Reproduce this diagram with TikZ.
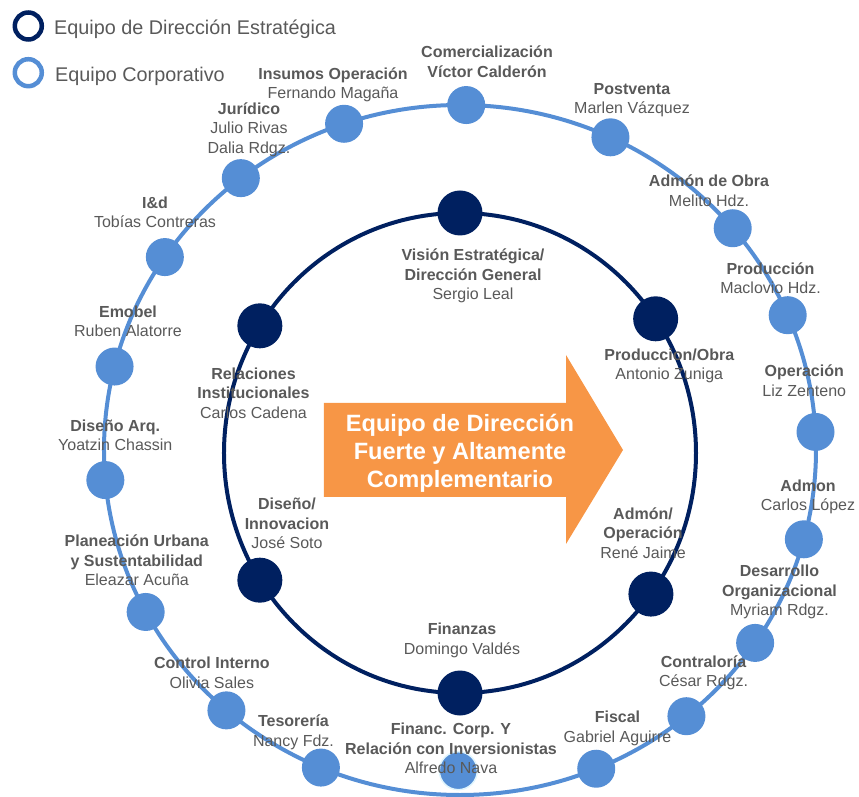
\documentclass[tikz,border=0pt]{standalone}
\usepackage{fontspec}
\setmainfont{Liberation Sans}
\usetikzlibrary{positioning,calc}
\definecolor{corpblue}{RGB}{85,142,213}
\definecolor{dirnavy}{RGB}{0,32,96}
\definecolor{arroworange}{RGB}{247,150,70}
\definecolor{txtgray}{RGB}{89,89,89}

\begin{document}
\begin{tikzpicture}[x=1pt,y=1pt,
   corp/.style={circle,fill=corpblue,minimum size=38pt,inner sep=0pt},
   dir/.style={circle,fill=dirnavy,minimum size=45pt,inner sep=0pt},
   ring/.style={circle,draw=#1,line width=4.5pt,minimum size=27pt,inner sep=0pt},
   lbl/.style={text=txtgray,align=center,inner sep=0pt,font=\fontsize{16}{19.5}\selectfont},
   legtxt/.style={text=txtgray,inner sep=0pt,yshift=-3.5pt,font=\fontsize{19.8}{23}\selectfont}]
   \useasboundingbox (-460,-347) rectangle (399,450);
   % the two rings
   \draw[corpblue,line width=4pt] (0,0) ellipse (356 and 345);
   \draw[dirnavy,line width=4pt] (0,-3) ellipse (236 and 240);
   % corporate team on the outer ring
   \foreach \a/\n in {89/comer,65/postv,40/obra,23/prod,3/oper,-15/admon,
      -34/desa,-50.5/contra,-67.5/fiscal,-113/teso,-131/control,-152/plan,
      185/disarq,166/emobel,146/iyd,128/jur,109/insumos} {
    \node[corp] (\n) at (\a:356 and 345) {};
   }
   \node[corp,draw=cyan!12,line width=1.5pt] (financ) at (-1.7,-320.7) {};
   % strategic team on the inner ring
   \foreach \a/\n in {90/vision,34/prodobra,-36/admonop,-90/fin,212/diseno,148/rel} {
    \node[dir] (\n) at ($(0,-3)+(\a:236 and 240)$) {};
   }
   % central arrow
   \fill[arroworange] (-136,47) -- (106,47) -- (106,95) -- (163,0)
      -- (106,-94) -- (106,-47) -- (-136,-47) -- cycle;
   \node[text=white,align=center,font=\bfseries\fontsize{23.6}{28}\selectfont]
      (arrowtxt) at (0,-3.2) {Equipo de Dirección\\Fuerte y Altamente\\Complementario};
   % legend
   \node[ring=dirnavy] (legdir) at (-431.7,424) {};
   \node[ring=corpblue] (legcorp) at (-431.7,377.3) {};
   \node[legtxt,right=10pt of legdir] (legdir-t) {Equipo de Dirección Estratégica};
   \node[legtxt,right=11pt of legcorp] (legcorp-t) {Equipo Corporativo};
   % names
   \node[lbl] (comer-t) at (27,388.5) {\textbf{Comercialización}\\\textbf{Víctor Calderón}};
   \node[lbl] (insumos-t) at (-127,365) {\textbf{Insumos Operación}\\Fernando Magaña};
   \node[lbl] (postv-t) at (172,350) {\textbf{Postventa}\\Marlen Vázquez};
   \node[lbl] (jur-t) at (-211,320.3) {\textbf{Jurídico}\\Julio Rivas\\Dalia Rdgz.};
   \node[lbl] (obra-t) at (249,259.3) {\textbf{Admón de Obra}\\Melito Hdz.};
   \node[lbl] (iyd-t) at (-305,237.5) {\textbf{I\&d}\\Tobías Contreras};
   \node[lbl] (vision-t) at (13,173.8) {\textbf{Visión Estratégica/}\\\textbf{Dirección General}\\Sergio Leal};
   \node[lbl] (prod-t) at (310.5,171.7) {\textbf{Producción}\\Maclovio Hdz.};
   \node[lbl] (emobel-t) at (-332,128.7) {\textbf{Emobel}\\Ruben Alatorre};
   \node[lbl] (rel-t) at (-206.5,57) {\textbf{Relaciones}\\\textbf{Institucionales}\\Carlos Cadena};
   \node[lbl] (prodobra-t) at (209.3,84.3) {\textbf{Produccion/Obra}\\Antonio Zuniga};
   \node[lbl] (oper-t) at (344.3,69.5) {\textbf{Operación}\\Liz Zenteno};
   \node[lbl] (disarq-t) at (-344.7,14.7) {\textbf{Diseño Arq.}\\Yoatzin Chassin};
   \node[lbl] (admon-t) at (348,-46.7) {\textbf{Admon}\\Carlos López};
   \node[lbl] (diseno-t) at (-173,-73.4) {\textbf{Diseño/}\\\textbf{Innovacion}\\José Soto};
   \node[lbl] (admonop-t) at (183,-82.9) {\textbf{Admón/}\\\textbf{Operación}\\René Jaime};
   \node[lbl] (desa-t) at (319.5,-142.1) {\textbf{Desarrollo}\\\textbf{Organizacional}\\Myriam Rdgz.};
   \node[lbl] (plan-t) at (-323.2,-110.6) {\textbf{Planeación Urbana}\\\textbf{y Sustentabilidad}\\Eleazar Acuña};
   \node[lbl] (fin-t) at (2,-190.5) {\textbf{Finanzas}\\Domingo Valdés};
   \node[lbl] (control-t) at (-248.2,-222.7) {\textbf{Control Interno}\\Olivia Sales};
   \node[lbl] (contra-t) at (243.6,-223) {\textbf{Contraloría}\\César Rdgz.};
   \node[lbl] (teso-t) at (-166.5,-282.2) {\textbf{Tesorería}\\Nancy Fdz.};
   \node[lbl] (financ-t) at (-9,-298.3) {\textbf{Financ. Corp. Y}\\\textbf{Relación con Inversionistas}\\Alfredo Nava};
   \node[lbl] (fiscal-t) at (157.5,-278.3) {\textbf{Fiscal}\\Gabriel Aguirre};
\end{tikzpicture}
\end{document}
